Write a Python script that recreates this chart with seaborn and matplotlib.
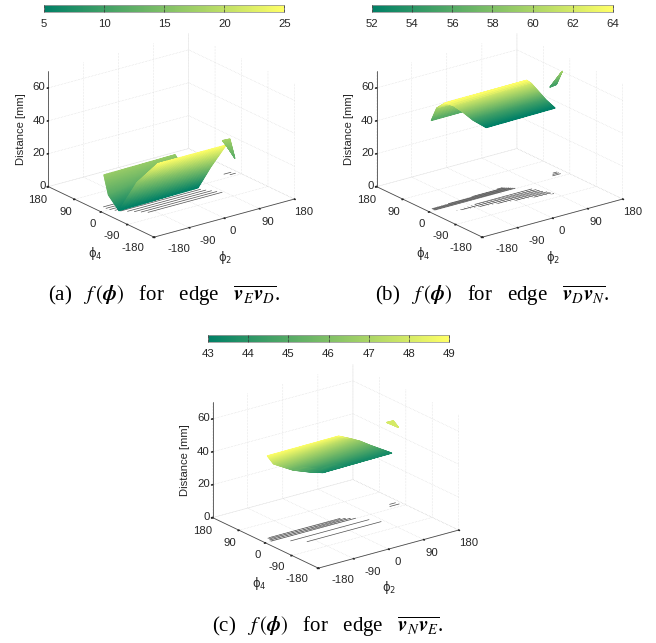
import numpy as np
import matplotlib
matplotlib.use("Agg")
import matplotlib.pyplot as plt
import seaborn as sns
from matplotlib.cm import ScalarMappable
from matplotlib.colors import Normalize
from mpl_toolkits.mplot3d.art3d import Poly3DCollection

# tick labels
angle_ticks = [-180, -90, 0, 90, 180]
angle_labels = ["-180", "-90", "0", "90", "180"]
dist_ticks = [0, 20, 40, 60]
dist_labels = ["0", "20", "40", "60"]

# colorbars
a_cbar = [5, 10, 15, 20, 25]
b_cbar = [52, 54, 56, 58, 60, 62, 64]
c_cbar = [43, 44, 45, 46, 47, 48, 49]

# where the axis labels sit, pixels in panel (a)
x_label_px = [(179, 249), (208, 241), (233, 231), (268, 222), (304, 212)]
y_label_px = [(133, 248), (112, 236), (93, 224), (66, 212), (38, 200)]
z_label_y = [186, 153, 120.7, 86.7]

# %% panel a, surface sheets (rows x columns)
a_front_phi2 = [[-175, 32], [-112, 70], [-62, 113]]
a_front_phi4 = [[-54, -48], [-31, -42], [-37, -37]]
a_front_z = [[5, 5], [16, 15], [25, 25]]
a_back_phi2 = [[-144.5, 41], [-178, 39], [-175, -86]]
a_back_phi4 = [[38, 42], [-22, 27.5], [-54, -40]]
a_back_z = [[17, 17], [12, 15], [5, 5]]
a_shard_phi2 = [[161, 179], [162, 154]]
a_shard_phi4 = [[40, 38], [27, -12]]
a_shard_z = [[18, 18], [16, 12]]
a_row_phi4 = [-60, -50, -40, -30, -20, -10, 0, 10, 20, 20, 10]
a_row_start = [-105, -115, -125, -135, -145, -152, -158, -160, -159, 150, 158]
a_row_end = [85, 79, 73, 66, 60, 54, 48, 42, 35, 168, 172]
a_col_phi2 = []
a_col_low = []
a_col_high = []

# %% panel b
b_front_phi2 = [[-91.5, 88], [-104.5, 84], [-115, 79.5], [-126, 77], [-142, 69]]
b_front_phi4 = [[-76, -72], [-48, -47], [-24, -25], [-9.5, -6], [-3, 0]]
b_front_z = [[52, 52], [55, 55], [59, 59], [62, 62], [64, 64]]
b_back_phi2 = [[-142, 69], [-151, 46], [-180, 31]]
b_back_phi4 = [[-3, 0], [14, -7], [-6, -3]]
b_back_z = [[64, 64], [60, 60], [56, 56]]
b_shard_phi2 = [[134, 154], [180, 180]]
b_shard_phi4 = [[7, 11], [26, 26]]
b_shard_z = [[55, 55], [60, 60]]
b_row_phi4 = [-22, -30, -38, -46, -54, -62, -70,
              2, 5, 8, 11, 14, 17, 20, 12, 18, 24]
b_row_start = [-80, -120, -79, -39, 1, 42, 83,
               -165, -165, -165, -165, -121, -57, 8, 145, 150, 155]
b_row_end = [66, 70, 73, 76, 80, 83, 86,
             41, 38, 35, 32, 28, 25, 22, 165, 165, 165]
b_col_phi2 = [-130, -120, -110, -100, -90, -80, -70, -60, -50, -40, -30, -20,
              -10, 0, 10, 20, 30, 40, 50, 60, 70, 80,
              -160, -150, -140, -130, -120, -110, -100, -90, -80, -70, -60,
              -50, -40, -30, -20, -10, 0, 10, 20, 30, 40]
b_col_low = [-28, -30, -32, -34, -36, -38, -40, -42, -44, -46, -48, -50,
             -52, -54, -56, -58, -60, -62, -64, -66, -68, -70,
             2, 2, 2, 2, 2, 2, 2, 2, 2, 2, 2, 2, 2, 2, 2, 2, 2, 2, 2, 2, 2]
b_col_high = [-26.5, -25.6, -24.7, -23.8, -23, -22, -22, -22, -22, -22, -22, -22,
              -22, -22, -22, -22, -22, -22, -22, -22, -31, -54,
              12, 13, 13, 14, 14, 15, 15, 15, 16, 16, 17, 17, 18, 18, 19, 19,
              20, 20, 20, 12, 3]

# %% panel c
c_surf_phi2 = [[-155, 29], [-164, 48], [-153, 61], [-142, 69], [-114.5, 81], [-90.5, 89]]
c_surf_phi4 = [[27, 29], [-6, 14.5], [-26, -2], [-44, -24], [-64, -53], [-77, -73]]
c_surf_z = [[49, 49], [47.5, 47.5], [46.5, 46.5], [45.5, 45.5], [44.3, 44.3], [43.5, 43.5]]
c_shard_phi2 = [[160, 177], [163, 163]]
c_shard_phi4 = [[39, 38.5], [3, 3]]
c_shard_z = [[48, 48], [48, 48]]
c_row_phi4 = [-46, -22, 1, 7, 13, 19, 12, 22]
c_row_start = [-108, -132, -165, -163, -160, -157, 148, 155]
c_row_end = [82, 69, 52, 43, 35, 26, 172, 170]
c_col_phi2 = [-160, -150, -140, -130, -120, -110, -100, -90, -80, -70, -60,
              -50, -40, -30, -20, -10, 0, 10, 20, 30, 40]
c_col_low = [1] * 21
c_col_high = [19] * 19 + [13, 7]

sns.set_theme(style="white")
plt.rcParams["font.family"] = ["Liberation Sans", "DejaVu Sans"]
summer = sns.color_palette("summer", as_cmap=True)

W, H = 656, 643
GREY = "#4a4a4a"
LABEL = "#262626"
TICK_SIZE = 8.2


def shading_cells(p2, p4, z, n=24):
    # split each sheet into small cells, only so the colour runs smoothly
    g = np.array([p2, p4, z], dtype=float)
    nr, nc = g.shape[1:]
    r = np.linspace(0, nr - 1, (nr - 1) * n + 1)
    c = np.linspace(0, nc - 1, (nc - 1) * n + 1)
    r0 = np.minimum(r.astype(int), nr - 2)
    c0 = np.minimum(c.astype(int), nc - 2)
    tr = (r - r0)[:, None]
    tc = (c - c0)[None, :]
    out = []
    for k in range(3):
        m = g[k]
        out.append((1 - tr) * (1 - tc) * m[np.ix_(r0, c0)] + (1 - tr) * tc * m[np.ix_(r0, c0 + 1)]
                   + tr * (1 - tc) * m[np.ix_(r0 + 1, c0)] + tr * tc * m[np.ix_(r0 + 1, c0 + 1)])
    return np.stack(out, axis=-1)


def add_sheet(ax, p2, p4, z, norm, zorder):
    pts = shading_cells(p2, p4, z)
    quads = np.stack([pts[:-1, :-1], pts[:-1, 1:], pts[1:, 1:], pts[1:, :-1]], axis=2)
    quads = quads.reshape(-1, 4, 3)
    cols = summer(norm(quads[:, :, 2].mean(axis=1)))
    ax.add_collection3d(Poly3DCollection(quads, facecolors=cols, edgecolors=cols,
                                         linewidths=0.7, zorder=zorder))


def panel(left, top, cbar_left, cbar_top, cbar_ticks, sheets, rows, cols, caption, cap_x, cap_y):
    side = 269.4
    ax = fig.add_axes([left / W, 1 - (top + side) / H, side / W, side / H],
                      projection="3d", proj_type="ortho")
    ax.computed_zorder = False
    ax.view_init(elev=21.1, azim=-127)
    ax.set_box_aspect((178, 178, 125))
    ax.set_xlim(-180, 180)
    ax.set_ylim(-180, 180)
    ax.set_zlim(0, 70)
    ax.patch.set_alpha(0)

    ax.set_xticks(angle_ticks)
    ax.set_yticks(angle_ticks)
    ax.set_zticks(dist_ticks)
    ax.set_xticklabels([])
    ax.set_yticklabels([])
    ax.set_zticklabels([])
    for axis in (ax.xaxis, ax.yaxis, ax.zaxis):
        axis.set_pane_color((1, 1, 1, 0))
        axis.line.set_color(GREY)
        axis.line.set_linewidth(0.6)
        axis._axinfo["grid"].update(color="#d2d2d2", linewidth=0.4, linestyle=":")
        axis._axinfo["tick"].update(inward_factor=0.08, outward_factor=0.0)
        axis._axinfo["tick"]["color"] = GREY
    ax.tick_params(axis="both", width=0.5)

    norm = Normalize(cbar_ticks[0], cbar_ticks[-1])
    row_phi4, row_start, row_end = rows
    for p4, s, e in zip(row_phi4, row_start, row_end):
        ax.plot([s, e], [p4, p4], [0, 0], color="#505050", lw=0.5, zorder=1)
    col_phi2, col_low, col_high = cols
    for p2, lo, hi in zip(col_phi2, col_low, col_high):
        ax.plot([p2, p2], [lo, hi], [0, 0], color="#5a5a5a", lw=0.35, zorder=1)
    for i, (p2, p4, z) in enumerate(sheets):
        add_sheet(ax, p2, p4, z, norm, 3 + i)

    cax = fig.add_axes([cbar_left / W, 1 - (cbar_top + 7.3) / H, 240.4 / W, 7.3 / H])
    cb = fig.colorbar(ScalarMappable(norm, summer), cax=cax, orientation="horizontal",
                      ticks=cbar_ticks)
    cb.outline.set_edgecolor("#9a9a9a")
    cb.outline.set_linewidth(0.6)
    cax.set_axisbelow(False)
    cax.tick_params(axis="x", direction="in", length=2.5, width=0.5, color="#333333",
                    labelsize=TICK_SIZE, labelcolor=LABEL, pad=5, bottom=True, top=True)

    dx, dy = left - 33, top - 4.2
    for (px, py), lab in zip(x_label_px, angle_labels):
        fig.text((px + dx) / W, 1 - (py + dy) / H, lab, fontsize=TICK_SIZE, ha="center",
                 va="center", color=LABEL)
    for (px, py), lab in zip(y_label_px, angle_labels):
        fig.text((px + dx) / W, 1 - (py + dy) / H, lab, fontsize=TICK_SIZE, ha="center",
                 va="center", color=LABEL)
    for py, lab in zip(z_label_y, dist_labels):
        fig.text((45.5 + dx) / W, 1 - (py + dy) / H, lab, fontsize=TICK_SIZE, ha="right",
                 va="center", color=LABEL)
    fig.text((95 + dx) / W, 1 - (253 + dy) / H, r"$\mathrm{\phi}_4$", fontsize=8.5,
             ha="center", va="center", color=LABEL, math_fontfamily="dejavusans")
    fig.text((225 + dx) / W, 1 - (257 + dy) / H, r"$\mathrm{\phi}_2$", fontsize=8.5,
             ha="center", va="center", color=LABEL, math_fontfamily="dejavusans")
    fig.text((21 + dx) / W, 1 - (129 + dy) / H, "Distance [mm]", fontsize=8.1, rotation=90,
             ha="center", va="center", color=LABEL)
    fig.text(cap_x / W, 1 - cap_y / H, caption, fontsize=15, ha="center", va="center",
             family="Liberation Serif", color="black", math_fontfamily="stix")
    return ax


fig = plt.figure(figsize=(W / 100, H / 100), dpi=100)

panel(33, 4.2, 44, 5,
      a_cbar,
      [(a_back_phi2, a_back_phi4, a_back_z),
       (a_front_phi2, a_front_phi4, a_front_z),
       (a_shard_phi2, a_shard_phi4, a_shard_z)],
      (a_row_phi4, a_row_start, a_row_end),
      (a_col_phi2, a_col_low, a_col_high),
      r"(a)   $f\,(\boldsymbol{\phi})$   for   edge   $\overline{\boldsymbol{v}_E\boldsymbol{v}_D}$.",
      164, 296)

panel(361.3, 4.2, 372.3, 5,
      b_cbar,
      [(b_back_phi2, b_back_phi4, b_back_z),
       (b_front_phi2, b_front_phi4, b_front_z),
       (b_shard_phi2, b_shard_phi4, b_shard_z)],
      (b_row_phi4, b_row_start, b_row_end),
      (b_col_phi2, b_col_low, b_col_high),
      r"(b)   $f\,(\boldsymbol{\phi})$   for   edge   $\overline{\boldsymbol{v}_D\boldsymbol{v}_N}$.",
      492, 296)

panel(197.3, 335.2, 208.3, 335,
      c_cbar,
      [(c_surf_phi2, c_surf_phi4, c_surf_z),
       (c_shard_phi2, c_shard_phi4, c_shard_z)],
      (c_row_phi4, c_row_start, c_row_end),
      (c_col_phi2, c_col_low, c_col_high),
      r"(c)   $f\,(\boldsymbol{\phi})$   for   edge   $\overline{\boldsymbol{v}_N\boldsymbol{v}_E}$.",
      328, 627)

fig.savefig("out.png", dpi=100)
